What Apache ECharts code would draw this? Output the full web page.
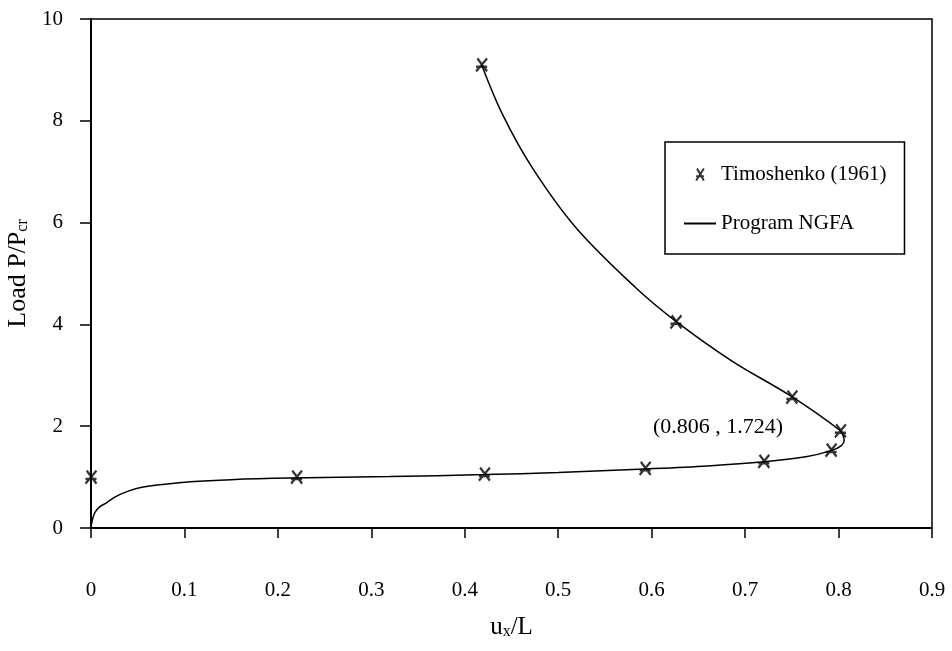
<!DOCTYPE html>
<html>
<head>
<meta charset="utf-8">
<script src="https://cdn.jsdelivr.net/npm/echarts@6/dist/echarts.min.js"></script>
<style>
html,body{margin:0;padding:0;background:#fff;}
#chart{width:952px;height:651px;}
</style>
</head>
<body>
<div id="chart"></div>
<script>
// Timoshenko (1961) reference points [u_x/L, P/Pcr]
const timoshenkoX = [0, 0.220, 0.421, 0.593, 0.720, 0.792, 0.802, 0.750, 0.626, 0.418];
const timoshenkoY = [1.00, 1.00, 1.06, 1.17, 1.31, 1.53, 1.91, 2.57, 4.05, 9.10];

// Program NGFA curve [u_x/L, P/Pcr]
const ngfaX = [0, 0.001, 0.004, 0.009, 0.017, 0.026, 0.035, 0.052, 0.079, 0.106, 0.150, 0.213, 0.320, 0.421, 0.500, 0.593, 0.660, 0.720, 0.765, 0.792, 0.803, 0.806, 0.805, 0.802, 0.750, 0.686, 0.626, 0.583, 0.519, 0.4725, 0.4405, 0.418];
const ngfaY = [0, 0.12, 0.30, 0.41, 0.50, 0.61, 0.69, 0.79, 0.86, 0.91, 0.95, 0.98, 1.01, 1.05, 1.09, 1.16, 1.22, 1.30, 1.40, 1.52, 1.62, 1.724, 1.80, 1.91, 2.58, 3.28, 4.06, 4.72, 5.90, 7.07, 8.12, 9.10];

const xTicks = [0, 0.1, 0.2, 0.3, 0.4, 0.5, 0.6, 0.7, 0.8, 0.9];
const yTicks = [0, 2, 4, 6, 8, 10];
const annotationText = '(0.806 , 1.724)';

const FONT = '"Liberation Serif", "DejaVu Serif", serif';
const markerPath = 'path://M3,0 L11,14 M11,0 L2,14 M2,9 L11,9';

const chart = echarts.init(document.getElementById('chart'), null, {renderer: 'canvas'});
chart.setOption({
  animation: false,
  backgroundColor: '#fff',
  grid: {left: 91, right: 20, top: 19, bottom: 123, containLabel: false, outerBoundsMode: 'none',
    show: true, borderColor: '#000', borderWidth: 1.5, backgroundColor: 'transparent'},
  xAxis: {
    type: 'value', min: 0, max: 0.9, interval: 0.1,
    axisLine: {show: true, lineStyle: {color: '#000', width: 2}},
    axisTick: {show: true, inside: false, length: 10, lineStyle: {color: '#000', width: 1.5}},
    splitLine: {show: false},
    axisLabel: {color: '#000', fontFamily: FONT, fontSize: 21, margin: 52,
      formatter: v => { const t = xTicks.find(k => Math.abs(k - v) < 1e-6); return t === undefined ? '' : String(t); }},
    name: '{m|u}{s|x}{m|/L}', nameLocation: 'middle', nameGap: 86,
    nameTextStyle: {fontFamily: FONT, fontSize: 25, rich: {
      m: {fontFamily: FONT, fontSize: 25, color: '#000'},
      s: {fontFamily: FONT, fontSize: 16, color: '#000', verticalAlign: 'bottom', padding: [10, 0, 0, 0]}
    }}
  },
  yAxis: {
    type: 'value', min: 0, max: 10, interval: 2,
    axisLine: {show: true, lineStyle: {color: '#000', width: 2}},
    axisTick: {show: true, inside: false, length: 11, lineStyle: {color: '#000', width: 1.5}},
    splitLine: {show: false},
    axisLabel: {color: '#000', fontFamily: FONT, fontSize: 21, margin: 28,
      formatter: v => { const t = yTicks.find(k => Math.abs(k - v) < 1e-6); return t === undefined ? '' : String(t); }},
    name: '{m|Load P/P}{s|cr}', nameLocation: 'middle', nameGap: 56,
    nameTextStyle: {fontFamily: FONT, fontSize: 26, rich: {
      m: {fontFamily: FONT, fontSize: 26, color: '#000'},
      s: {fontFamily: FONT, fontSize: 16, color: '#000', verticalAlign: 'bottom', padding: [10, 0, 0, 0]}
    }}
  },
  legend: {
    orient: 'vertical', left: 665, top: 142,
    width: 232,
    padding: [22, 18, 20, 18], itemGap: 28,
    itemWidth: 32, itemHeight: 12,
    borderColor: '#000', borderWidth: 1.5,
    textStyle: {fontFamily: FONT, fontSize: 21, color: '#000'},
    data: [
      {name: 'Timoshenko (1961)', icon: markerPath},
      {name: 'Program NGFA', itemStyle: {opacity: 0}}
    ]
  },
  graphic: [{
    type: 'text', left: 653, top: 416,
    style: {text: annotationText, font: '22px ' + FONT, fill: '#000'}
  }],
  series: [
    {
      name: 'Program NGFA', type: 'line',
      data: ngfaX.map((x, i) => [x, ngfaY[i]]),
      showSymbol: false, symbol: 'none',
      smooth: 0.35, smoothMonotone: 'none',
      lineStyle: {color: '#000', width: 1.5},
      itemStyle: {color: '#000'}
    },
    {
      name: 'Timoshenko (1961)', type: 'scatter',
      data: timoshenkoX.map((x, i) => [x, timoshenkoY[i]]),
      symbol: markerPath, symbolSize: [11, 13],
      itemStyle: {color: '#000', borderColor: '#000', borderWidth: 2.3},
      z: 5
    }
  ]
});
</script>
</body>
</html>
